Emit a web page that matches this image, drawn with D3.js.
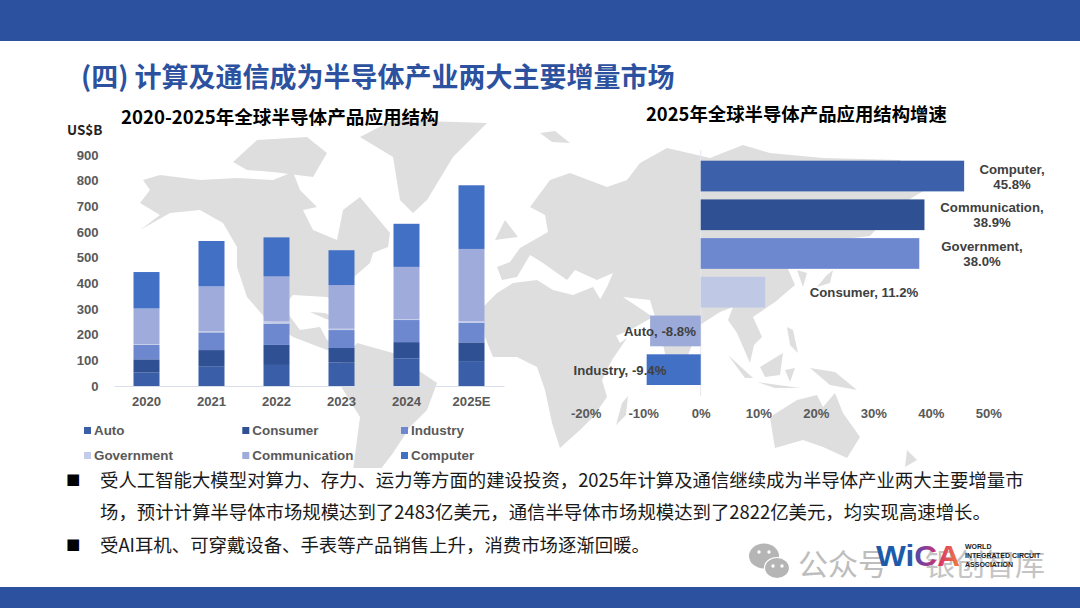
<!DOCTYPE html>
<html><head><meta charset="utf-8">
<script src="https://cdn.jsdelivr.net/npm/d3@7"></script>
<style>html,body{margin:0;padding:0;background:#fff;overflow:hidden}svg{display:block}
text{font-family:"Liberation Sans",Arial,sans-serif}
.cjk{font-family:"Noto Sans CJK SC","Noto Sans",sans-serif}</style></head>
<body><svg id="c" width="1080" height="608"></svg>
<script>
// ---- data ----
const years = ["2020","2021","2022","2023","2024","2025E"];
const seriesNames = ["Auto","Consumer","Industry","Government","Communication","Computer"];
const auto = [52,75,82,91,108,97];
const consumer = [52,65,78,57,63,73];
const industry = [56,69,83,70,86,77];
const government = [3,5,9,5,3,5];
const communication = [139,174,175,170,204,282];
const computer = [142,177,152,136,168,248];
const yTicks = [0,100,200,300,400,500,600,700,800,900];
const growthNames = ["Computer","Communication","Government","Consumer","Auto","Industry"];
const growthValues = [45.8,38.9,38.0,11.2,-8.8,-9.4];
const growthTicks = [-20,-10,0,10,20,30,40,50];
const growthColors = ["#3c60aa","#2f5194","#6d88cf","#bfc8e5","#9baad9","#4270c4"];
const seriesColors = ["#3a5fa8","#2f5194","#6d88cf","#c3cce8","#9eabdb","#4270c4"];
const bodyLines = [
 "受人工智能大模型对算力、存力、运力等方面的建设投资，2025年计算及通信继续成为半导体产业两大主要增量市",
 "场，预计计算半导体市场规模达到了2483亿美元，通信半导体市场规模达到了2822亿美元，均实现高速增长。",
 "受AI耳机、可穿戴设备、手表等产品销售上升，消费市场逐渐回暖。"];
// decorative world-map silhouette
const land = [
 // North and Central America
 [[143,180],[160,175],[200,180],[237,178],[273,180],[293,172],[300,190],[317,207],[303,210],[313,230],[337,240],[343,210],[360,197],[390,233],[388,247],[373,253],[370,263],[347,283],[337,303],[327,297],[293,295],[283,307],[300,330],[320,327],[327,340],[347,348],[357,348],[327,350],[293,337],[267,320],[247,297],[237,267],[237,247],[223,223],[200,210],[170,213],[140,230],[160,215],[140,203],[150,190]],
 // Arctic islands
 [[233,162],[257,140],[307,137],[327,153],[313,177],[273,172],[247,170]],
 // Greenland
 [[360,137],[393,120],[487,123],[453,157],[427,200],[413,213],[400,200],[393,157]],
 // Cuba
 [[310,312],[325,313],[342,322],[326,319]],
 // South America
 [[357,343],[393,353],[437,383],[427,410],[410,427],[393,453],[380,470],[353,470],[360,417],[337,380],[343,360]],
 // Africa
 [[483,307],[497,293],[513,283],[537,280],[553,290],[573,295],[593,287],[605,307],[613,330],[620,343],[627,338],[612,360],[602,380],[607,397],[593,417],[580,430],[560,448],[552,423],[545,390],[537,367],[517,357],[493,357],[485,337]],
 // UK and Iceland
 [[505,220],[518,237],[495,240]],
 [[540,133],[555,131],[570,143],[552,142]],
 // Eurasia
 [[497,267],[502,280],[517,277],[530,255],[543,263],[557,273],[567,280],[575,270],[597,280],[613,273],[607,287],[597,305],[613,337],[630,330],[653,317],[623,297],[650,300],[662,340],[672,385],[682,370],[700,325],[720,312],[733,307],[728,320],[737,333],[750,363],[754,345],[762,337],[753,317],[775,302],[795,285],[785,262],[810,245],[837,240],[870,236],[880,225],[900,205],[925,190],[900,160],[823,158],[770,153],[743,145],[710,158],[667,148],[640,163],[627,180],[607,187],[570,173],[550,180],[530,207],[545,215],[548,232],[520,248],[510,262]],
 // Korea and Japan
 [[797,270],[807,273],[803,287]],
 [[833,270],[830,283],[817,287],[826,276]],
 // Maritime Asia
 [[787,327],[793,330],[798,353],[790,345]],
 [[728,355],[753,378],[745,378]],
 [[757,382],[800,388],[775,388]],
 [[760,367],[783,353],[780,375],[765,377]],
 [[785,370],[795,368],[790,382]],
 [[810,368],[835,372],[857,390],[830,385]],
 // Australia and New Zealand
 [[770,417],[797,400],[817,395],[823,407],[835,393],[843,413],[860,437],[847,458],[823,447],[803,440],[775,448],[772,430]],
 [[907,450],[917,460],[905,467]],
 // Madagascar
 [[622,403],[628,396],[626,415],[616,425]]
];
// ---- layout ----
const svg = d3.select("#c");
const line = d3.line().curve(d3.curveLinearClosed);
svg.append("g").selectAll("path").data(land).join("path").attr("d",line).attr("fill","#dedede");
svg.append("rect").attr("x",0).attr("y",468).attr("width",1080).attr("height",120).attr("fill","#fff");
svg.append("rect").attr("width",1080).attr("height",41).attr("fill","#2c529f");
svg.append("rect").attr("y",587).attr("width",1080).attr("height",21).attr("fill","#2c529f");
svg.append("text").attr("class","cjk").attr("x",81).attr("y",86.5).attr("font-size",27).attr("font-weight",700).attr("fill","#2c529f").text("(四) 计算及通信成为半导体产业两大主要增量市场");
svg.append("text").attr("class","cjk").attr("x",121).attr("y",124).attr("font-size",18.6).attr("font-weight",700).attr("fill","#000").text("2020-2025年全球半导体产品应用结构");
svg.append("text").attr("class","cjk").attr("x",646).attr("y",121).attr("font-size",18.4).attr("font-weight",700).attr("fill","#000").text("2025年全球半导体产品应用结构增速");
svg.append("text").attr("class","cjk").attr("x",67).attr("y",135).attr("font-size",13.5).attr("font-weight",700).attr("fill","#222").text("US$B");
// stacked chart
const rows = years.map((y,i)=>({year:y,Auto:auto[i],Consumer:consumer[i],Industry:industry[i],Government:government[i],Communication:communication[i],Computer:computer[i]}));
const stack = d3.stack().keys(seriesNames)(rows);
const x = d3.scaleBand().domain(years).range([114,504]).paddingInner(0.6).paddingOuter(0.3);
const y = d3.scaleLinear().domain([0,900]).range([386,155]);
svg.append("g").selectAll("g").data(stack).join("g").attr("fill",(d,i)=>seriesColors[i])
 .selectAll("rect").data(d=>d).join("rect")
 .attr("x",d=>x(d.data.year)).attr("width",x.bandwidth())
 .attr("y",d=>y(d[1])).attr("height",d=>y(d[0])-y(d[1]));
const tickStyle=s=>s.attr("font-size",13.1).attr("font-weight",700).attr("fill","#595959").attr("font-family","Liberation Sans");
const xAxis = svg.append("g").attr("transform","translate(0,386)").call(d3.axisBottom(x).tickSize(0).tickPadding(10.5));
xAxis.select(".domain").attr("stroke","#d9dfea");
xAxis.selectAll("text").call(tickStyle);
const yAxis = svg.append("g").attr("transform","translate(98.5,0)").call(d3.axisLeft(y).tickValues(yTicks).tickSize(0).tickPadding(0));
yAxis.select(".domain").remove();
yAxis.selectAll("text").call(tickStyle);
// legend
const legCol=[84,242.3,401], legRow=[430.5,455.5];
const leg = svg.append("g").selectAll("g").data(seriesNames).join("g")
 .attr("transform",(d,i)=>`translate(${legCol[i%3]},${legRow[Math.floor(i/3)]})`);
leg.append("rect").attr("y",-3.5).attr("width",7).attr("height",7).attr("fill",(d,i)=>seriesColors[i]);
leg.append("text").attr("x",10).attr("dy","0.36em").attr("font-size",13.4).attr("font-weight",700).attr("fill","#595959").text(d=>d);
// growth chart
const gx = d3.scaleLinear().domain([-20,50]).range([585.7,988.3]);
const gy = d3.scaleBand().domain(growthNames).range([156.7,389]).paddingInner(0.207).paddingOuter(0.103);
svg.append("line").attr("x1",gx(0)).attr("x2",gx(0)).attr("y1",150).attr("y2",396).attr("stroke","#e4e7ee");
svg.append("g").selectAll("rect").data(growthValues).join("rect")
 .attr("x",d=>gx(Math.min(0,d))).attr("width",d=>Math.abs(gx(d)-gx(0)))
 .attr("y",(d,i)=>gy(growthNames[i])).attr("height",gy.bandwidth()).attr("fill",(d,i)=>growthColors[i]);
const gAxis = svg.append("g").attr("transform","translate(0,402.5)").call(d3.axisBottom(gx).tickValues(growthTicks).tickSize(0).tickPadding(6).tickFormat(d=>d+"%"));
gAxis.select(".domain").remove();
gAxis.selectAll("text").call(tickStyle);
// growth labels
const labelCentre=[1012,992,982,864,660,620];
const labelWrap=[true,true,true,false,false,false];
const lab = svg.append("g").selectAll("text").data(growthNames).join("text")
 .attr("text-anchor","middle").attr("font-size",13.2).attr("font-weight",700).attr("fill","#404040");
lab.each(function(n,i){
 const t=d3.select(this), cy=gy(n)+gy.bandwidth()/2, cx=labelCentre[i], v=growthValues[i].toFixed(1)+"%";
 if(labelWrap[i]){
  t.append("tspan").attr("x",cx).attr("y",cy-2.3).text(n+",");
  t.append("tspan").attr("x",cx).attr("y",cy+12.7).text(v);
 } else t.append("tspan").attr("x",cx).attr("y",cy+5).text(n+", "+v);
});
// body text
const by=[486.5,518.5,551.5];
svg.append("g").selectAll("text").data(bodyLines).join("text").attr("class","cjk")
 .attr("x",100).attr("y",(d,i)=>by[i]).attr("font-size",18.4).attr("fill","#1a1a1a").text(d=>d);
svg.append("g").selectAll("text").data([0,2]).join("text").attr("class","cjk")
 .attr("x",66).attr("y",i=>by[i]-0.5).attr("font-size",14.5).attr("fill","#000").text("■");
// watermark + logo
const wm=svg.append("g").attr("fill","#b5b5b5");
wm.append("ellipse").attr("cx",764).attr("cy",556).attr("rx",15).attr("ry",12.5);
wm.append("ellipse").attr("cx",777).attr("cy",568).attr("rx",12.5).attr("ry",10.5).attr("stroke","#fff").attr("stroke-width",1.2);
[[759,552],[769,552],[773,566],[782,566]].forEach(p=>wm.append("circle").attr("cx",p[0]).attr("cy",p[1]).attr("r",1.7).attr("fill","#fff"));
svg.append("text").attr("class","cjk").attr("x",798).attr("y",575).attr("font-size",30).attr("fill","#bdbdbd").text("公众号");
svg.append("text").attr("class","cjk").attr("x",925).attr("y",575).attr("font-size",30).attr("fill","#c4c4c4").text("银创智库");
const gr=svg.append("defs").append("linearGradient").attr("id","wg");
[["0%","#1f5aa8"],["38%","#1f5aa8"],["55%","#7a3fa0"],["75%","#d8336b"],["100%","#f0803a"]].forEach(s=>gr.append("stop").attr("offset",s[0]).attr("stop-color",s[1]));
svg.append("text").attr("x",876).attr("y",566).attr("font-size",30).attr("font-weight",700).attr("fill","url(#wg)").attr("textLength",84).attr("lengthAdjust","spacingAndGlyphs").text("WiCA");
["WORLD","INTEGRATED CIRCUIT","ASSOCIATION"].forEach((t,i)=>svg.append("text").attr("x",965).attr("y",549+i*8.8).attr("font-size",7).attr("font-weight",700).attr("fill","#222").text(t));
</script></body></html>
